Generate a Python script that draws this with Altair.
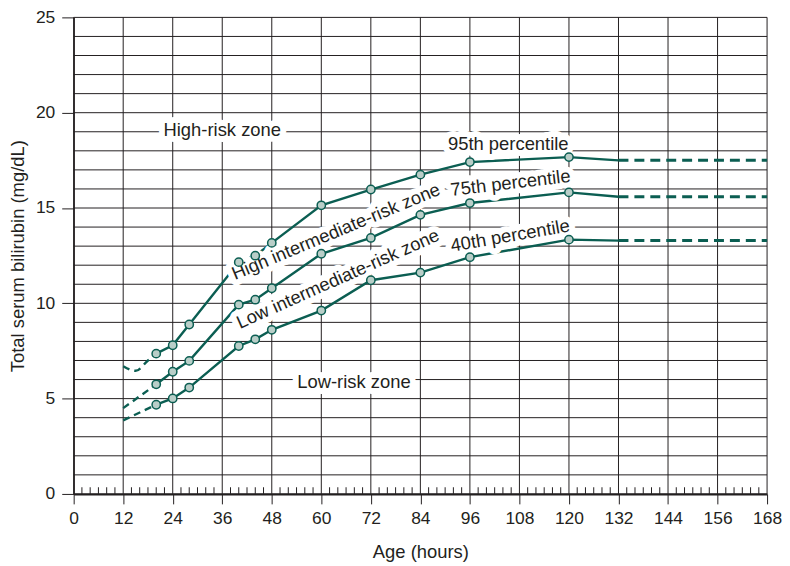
import altair as alt
import pandas as pd

# ---- data ----
hours = [20, 24, 28, 40, 44, 48, 60, 72, 84, 96, 120]
p95 = [7.36, 7.8, 8.89, 12.16, 12.5, 13.17, 15.14, 15.97, 16.75, 17.41, 17.67]
p75 = [5.75, 6.41, 6.98, 9.93, 10.19, 10.79, 12.6, 13.43, 14.64, 15.26, 15.82]
p40 = [4.68, 5.01, 5.58, 7.76, 8.11, 8.61, 9.62, 11.21, 11.61, 12.42, 13.34]

end_hour = 132
end_vals = {"95th": 17.5, "75th": 15.59, "40th": 13.29}
proj_hour = 168

early_95_h = [12, 15, 18, 20]
early_95_v = [6.7, 6.46, 7.0, 7.36]
early_75_h = [12, 20]
early_75_v = [4.5, 5.75]
early_40_h = [12, 20]
early_40_v = [3.86, 4.68]

x_ticks = list(range(0, 169, 12))
y_ticks = [0, 5, 10, 15, 20, 25]
y_grid = list(range(0, 26))
minor_hours = [h for h in range(2, 168, 2) if h % 12 != 0]

label_text = ["High-risk zone", "Low-risk zone", "95th percentile", "75th percentile",
              "40th percentile", "High intermediate-risk zone", "Low intermediate-risk zone"]
label_x = [36.0, 67.9, 105.3, 106.0, 106.0, 64.1, 64.6]
label_y = [18.76, 5.55, 18.02, 16.0, 13.24, 13.48, 11.0]
label_angle = [0, 0, 0, 353.3, 350.2, 337.4, 336.0]

# ---- tables ----
series = {"95th": p95, "75th": p75, "40th": p40}
solid_rows, point_rows, right_rows = [], [], []
for name, vals in series.items():
    for h, v in zip(hours, vals):
        solid_rows.append({"s": name, "h": h, "v": v})
        point_rows.append({"s": name, "h": h, "v": v})
    solid_rows.append({"s": name, "h": end_hour, "v": end_vals[name]})
    right_rows.append({"s": name, "h": end_hour, "v": end_vals[name]})
    right_rows.append({"s": name, "h": proj_hour, "v": end_vals[name]})
left_rows = []
for name, hs, vs in [("95th", early_95_h, early_95_v), ("75th", early_75_h, early_75_v),
                     ("40th", early_40_h, early_40_v)]:
    for h, v in zip(hs, vs):
        left_rows.append({"s": name, "h": h, "v": v})

solid_df = pd.DataFrame(solid_rows)
point_df = pd.DataFrame(point_rows)
right_df = pd.DataFrame(right_rows)
left_df = pd.DataFrame(left_rows)
labels_df = pd.DataFrame({"t": label_text, "h": label_x, "v": label_y, "a": label_angle})

INK = "#231f20"
TEAL = "#0b5e52"
FILL = "#b9cec8"
FONT = "Liberation Sans"

W, H = 697, 479

xs = alt.Scale(domain=[0, 168], nice=False, zero=False)
ys = alt.Scale(domain=[0, 25], nice=False, zero=False)

x_axis = alt.Axis(values=x_ticks, grid=False, tickSize=10, tickColor=INK, tickWidth=1,
                  domainColor=INK, domainWidth=2, labelColor=INK, labelFontSize=17.5,
                  labelPadding=6, labelFlush=False, labelOverlap=False,
                  title="Age (hours)", titleFontSize=18.5, titleColor=INK,
                  titleFontWeight="normal", titleX=W / 2, titleY=64, titleBaseline="alphabetic",
                  titleAlign="center", format="d")
y_axis = alt.Axis(values=y_ticks, grid=False, tickSize=12, tickColor=INK, tickWidth=1,
                  domainColor=INK, domainWidth=1.5, labelColor=INK, labelFontSize=17.5,
                  labelPadding=7, labelFlush=False, labelOverlap=False,
                  title="Total serum bilirubin (mg/dL)", titleFontSize=18.5,
                  titleColor=INK, titleFontWeight="normal", titleAngle=270, titleX=-50,
                  titleY=H / 2, titleAlign="center", titleBaseline="alphabetic", format="d")

hgrid = alt.Chart(pd.DataFrame({"v": y_grid})).mark_rule(color=INK, strokeWidth=1).encode(
    y=alt.Y("v:Q", scale=ys, axis=y_axis),
    x=alt.value(0), x2=alt.value(W),
)
vgrid = alt.Chart(pd.DataFrame({"h": x_ticks})).mark_rule(color=INK, strokeWidth=1).encode(
    x=alt.X("h:Q", scale=xs, axis=x_axis),
    y=alt.value(0), y2=alt.value(H),
)
minor = alt.Chart(pd.DataFrame({"h": minor_hours, "v0": 0.0, "v1": 0.35})).mark_rule(
    color=INK, strokeWidth=1).encode(
    x=alt.X("h:Q", scale=xs), y=alt.Y("v0:Q", scale=ys), y2="v1:Q")

enc = dict(x=alt.X("h:Q", scale=xs), y=alt.Y("v:Q", scale=ys), detail="s:N")
solid = alt.Chart(solid_df).mark_line(color=TEAL, strokeWidth=2.4).encode(**enc)
left = alt.Chart(left_df).mark_line(color=TEAL, strokeWidth=2.4, strokeDash=[7, 5],
                                    interpolate="monotone").encode(**enc)
right = alt.Chart(right_df).mark_line(color=TEAL, strokeWidth=3, strokeDash=[10, 6]).encode(**enc)

tenc = dict(x=alt.X("h:Q", scale=xs), y=alt.Y("v:Q", scale=ys),
            text="t:N", angle=alt.Angle("a:Q", scale=None))
halo = alt.Chart(labels_df).mark_text(font=FONT, fontSize=18.5, align="center",
                                      baseline="alphabetic", fill="white", stroke="white",
                                      strokeWidth=12, strokeJoin="round").encode(**tenc)
text = alt.Chart(labels_df).mark_text(font=FONT, fontSize=18.5, align="center",
                                      baseline="alphabetic", color=INK).encode(**tenc)

points = alt.Chart(point_df).mark_point(shape="circle", filled=True, fill=FILL, stroke=TEAL,
                                        strokeWidth=1.5, size=70, opacity=1).encode(
    x=alt.X("h:Q", scale=xs), y=alt.Y("v:Q", scale=ys))

chart = alt.layer(hgrid, vgrid, minor, left, solid, right, halo, text, points).properties(
    width=W, height=H,
    autosize=alt.AutoSizeParams(type="none"),
    padding={"left": 66, "top": 8, "right": 15, "bottom": 70},
).configure_view(stroke=None).configure_axis(labelFont=FONT, titleFont=FONT)

chart.save("out.html", embed_options={"renderer": "svg", "actions": False})
